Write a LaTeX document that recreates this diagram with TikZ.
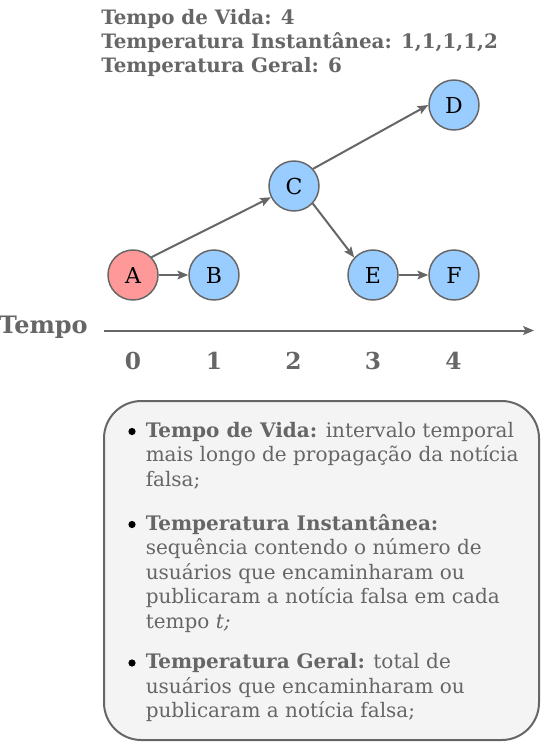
\documentclass[tikz,border=0pt]{standalone}
\usepackage{fontspec}
\setmainfont{DejaVu Serif}
\usetikzlibrary{arrows.meta}
\definecolor{txtgray}{HTML}{666666}
\definecolor{nodeblue}{HTML}{99CCFF}
\definecolor{nodered}{HTML}{FF9999}
\definecolor{boxfill}{HTML}{F4F4F4}
\begin{document}
\begin{tikzpicture}[x=0.75pt,y=-0.75pt,
  vertex/.style={circle,draw=txtgray,line width=1.1pt,minimum size=37.5pt,inner sep=0pt,
    fill=nodeblue,text=black,font=\fontsize{16.5}{19}\selectfont},
  edge/.style={draw=txtgray,line width=1.5pt,-{Stealth[length=8pt,width=6.5pt,inset=1.5pt]}},
  toptxt/.style={anchor=base west,inner sep=0pt,text=txtgray,font=\fontsize{14.9}{17}\selectfont\bfseries},
  axlbl/.style={anchor=base,inner sep=0pt,text=txtgray,font=\fontsize{17.5}{20}\selectfont\bfseries},
  btxt/.style={anchor=base west,inner sep=0pt,text=txtgray,font=\fontsize{15}{17.5}\selectfont},
  infobox/.style={draw=txtgray,line width=1.5pt,fill=boxfill,rounded corners=28pt}
]
\useasboundingbox (0,0) rectangle (545,743);

% header texts
\node[toptxt] (h1) at (101,24.5) {Tempo de Vida: 4};
\node[toptxt] (h2) at (101,48.5) {Temperatura Instantânea: 1,1,1,1,2};
\node[toptxt] (h3) at (101,72.5) {Temperatura Geral: 6};

% graph
\node[vertex,fill=nodered] (A) at (133,275) {A};
\node[vertex] (B) at (214,275) {B};
\node[vertex] (C) at (294,186) {C};
\node[vertex] (D) at (454,105) {D};
\node[vertex] (E) at (373,275) {E};
\node[vertex] (F) at (454,275) {F};

\draw[edge] (A.east) -- (B.west);
\draw[edge] (A.44) -- (C.206);
\draw[edge] (C.42) -- (D.west);
\draw[edge] (C.-43) -- (E.137);
\draw[edge] (E.east) -- (F.west);

% time axis
\coordinate (ax0) at (104,330.5);
\coordinate (ax1) at (534,330.5);
\draw[edge] (ax0) -- (ax1);
\node[axlbl,font=\fontsize{18}{20}\selectfont\bfseries,anchor=base east] (tempo) at (88,333) {Tempo};
\node[axlbl] (t0) at (133,369) {0};
\node[axlbl] (t1) at (214,369) {1};
\node[axlbl] (t2) at (293.5,369) {2};
\node[axlbl] (t3) at (373,369) {3};
\node[axlbl] (t4) at (453.5,369) {4};

% info box
\draw[infobox] (104,401) rectangle (539,740);
\foreach \yy in {431.5,524.5,663}{\fill[black] (132,\yy) circle (2.7pt);}
\node[btxt] (l1) at (145.5,437) {\textbf{Tempo de Vida:} intervalo temporal};
\node[btxt] (l2) at (145.5,461.5) {mais longo de propagação da notícia};
\node[btxt] (l3) at (145.5,486) {falsa;};
\node[btxt] (l4) at (145.5,530) {\textbf{Temperatura Instantânea:}};
\node[btxt] (l5) at (145.5,554.5) {sequência contendo o número de};
\node[btxt] (l6) at (145.5,579) {usuários que encaminharam ou};
\node[btxt] (l7) at (145.5,603.5) {publicaram a notícia falsa em cada};
\node[btxt] (l8) at (145.5,628) {tempo \textit{t;}};
\node[btxt] (l9) at (145.5,668.5) {\textbf{Temperatura Geral:} total de};
\node[btxt] (l10) at (145.5,693) {usuários que encaminharam ou};
\node[btxt] (l11) at (145.5,717.5) {publicaram a notícia falsa;};
\end{tikzpicture}
\end{document}
